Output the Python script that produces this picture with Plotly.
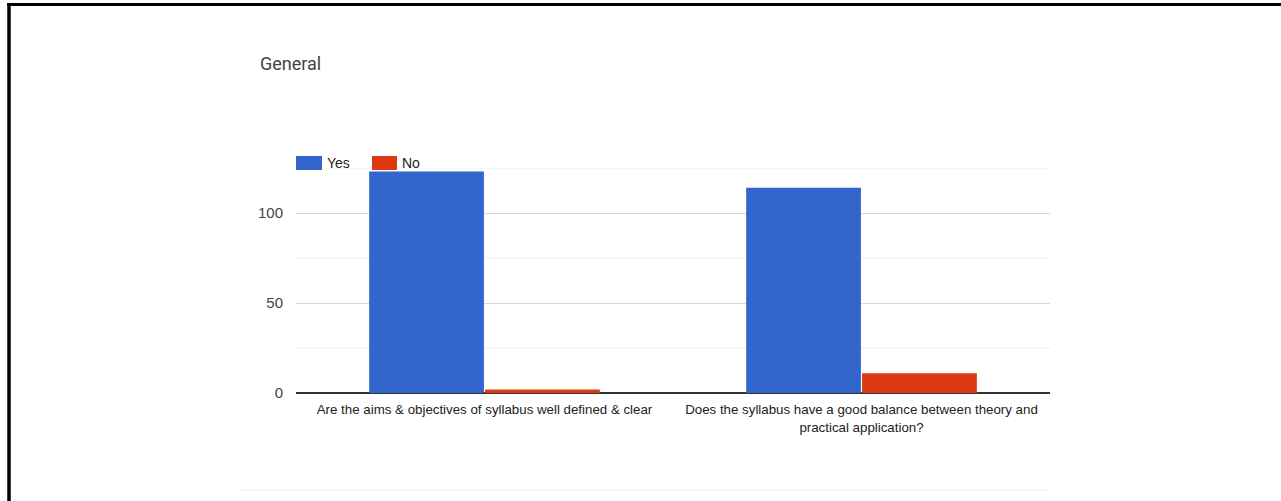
import plotly.graph_objects as go

categories = [
    "Are the aims & objectives of syllabus well defined & clear",
    "Does the syllabus have a good balance between theory and<br>practical application?",
]
series_names = ["Yes", "No"]
yes_values = [123, 114]
no_values = [2, 11]
colors = ["#3366cc", "#dc3912"]
y_ticks = [0, 50, 100]
title_text = "General"

W, H = 1281, 501
L, R, T, B = 296, 231, 168, 108
pw, ph = W - L - R, H - T - B
FONT = "Arial, Liberation Sans, sans-serif"

def px_x(x):
    return (x - L) / pw

def px_y(y):
    return (H - B - y) / ph

fig = go.Figure()
for name, vals, col in zip(series_names, [yes_values, no_values], colors):
    fig.add_trace(go.Bar(x=categories, y=vals, name=name, marker_color=col,
                         marker_line_width=0, showlegend=False))

shapes = []
annotations = []
# custom legend
leg_pos = [(296, 322, 327), (372, 397, 402)]
for (x0, x1, tx), name, col in zip(leg_pos, series_names, colors):
    shapes.append(dict(type="rect", xref="paper", yref="paper",
                       x0=px_x(x0), x1=px_x(x1), y0=px_y(170), y1=px_y(156),
                       fillcolor=col, line_width=0))
    annotations.append(dict(xref="paper", yref="paper", x=px_x(tx), y=px_y(163),
                            xanchor="left", yanchor="middle", text=name, showarrow=False,
                            xshift=-2,
                            font=dict(family=FONT, size=14, color="#222222")))
# grid lines at minor positions
for v in [25, 75, 125]:
    shapes.append(dict(type="line", xref="paper", yref="y", x0=0, x1=1, y0=v, y1=v,
                       line=dict(color="#ebebeb", width=1), layer="below"))
# faint bottom separator
shapes.append(dict(type="line", xref="paper", yref="paper", x0=px_x(240), x1=px_x(1050),
                   y0=px_y(490), y1=px_y(490), line=dict(color="#f3f3f3", width=1)))
# black border (top and left)
shapes.append(dict(type="line", xref="paper", yref="paper", x0=px_x(7), x1=px_x(1281),
                   y0=px_y(4.5), y1=px_y(4.5), line=dict(color="black", width=3)))
shapes.append(dict(type="line", xref="paper", yref="paper", x0=px_x(9), x1=px_x(9),
                   y0=px_y(3), y1=px_y(501), line=dict(color="black", width=3.5)))

fig.update_layout(
    width=W, height=H,
    margin=dict(l=L, r=R, t=T, b=B, autoexpand=False),
    paper_bgcolor="white", plot_bgcolor="white",
    title=dict(text=title_text, x=260 / W, xref="container", xanchor="left",
               y=1 - 64 / H, yref="container", yanchor="middle",
               font=dict(family="Roboto", size=18, color="#424242")),
    barmode="group", bargap=0.385, bargroupgap=0.01,
    xaxis=dict(showgrid=False, showline=False, ticks="", tickangle=0,
               ticklabelstandoff=7,
               tickfont=dict(family=FONT, size=13.3, color="#222222")),
    yaxis=dict(range=[0, 125], tickvals=y_ticks, showgrid=True, gridcolor="#d9d9d9",
               zeroline=True, zerolinecolor="#333333", zerolinewidth=1.5,
               ticks="", ticklabelstandoff=12,
               tickfont=dict(family=FONT, size=15, color="#444444")),
    shapes=shapes, annotations=annotations,
)
fig.update_xaxes(automargin=False)
fig.update_yaxes(automargin=False)

fig.write_html("out.html", config={"displayModeBar": False},
               post_script="document.body.style.margin='0';")
